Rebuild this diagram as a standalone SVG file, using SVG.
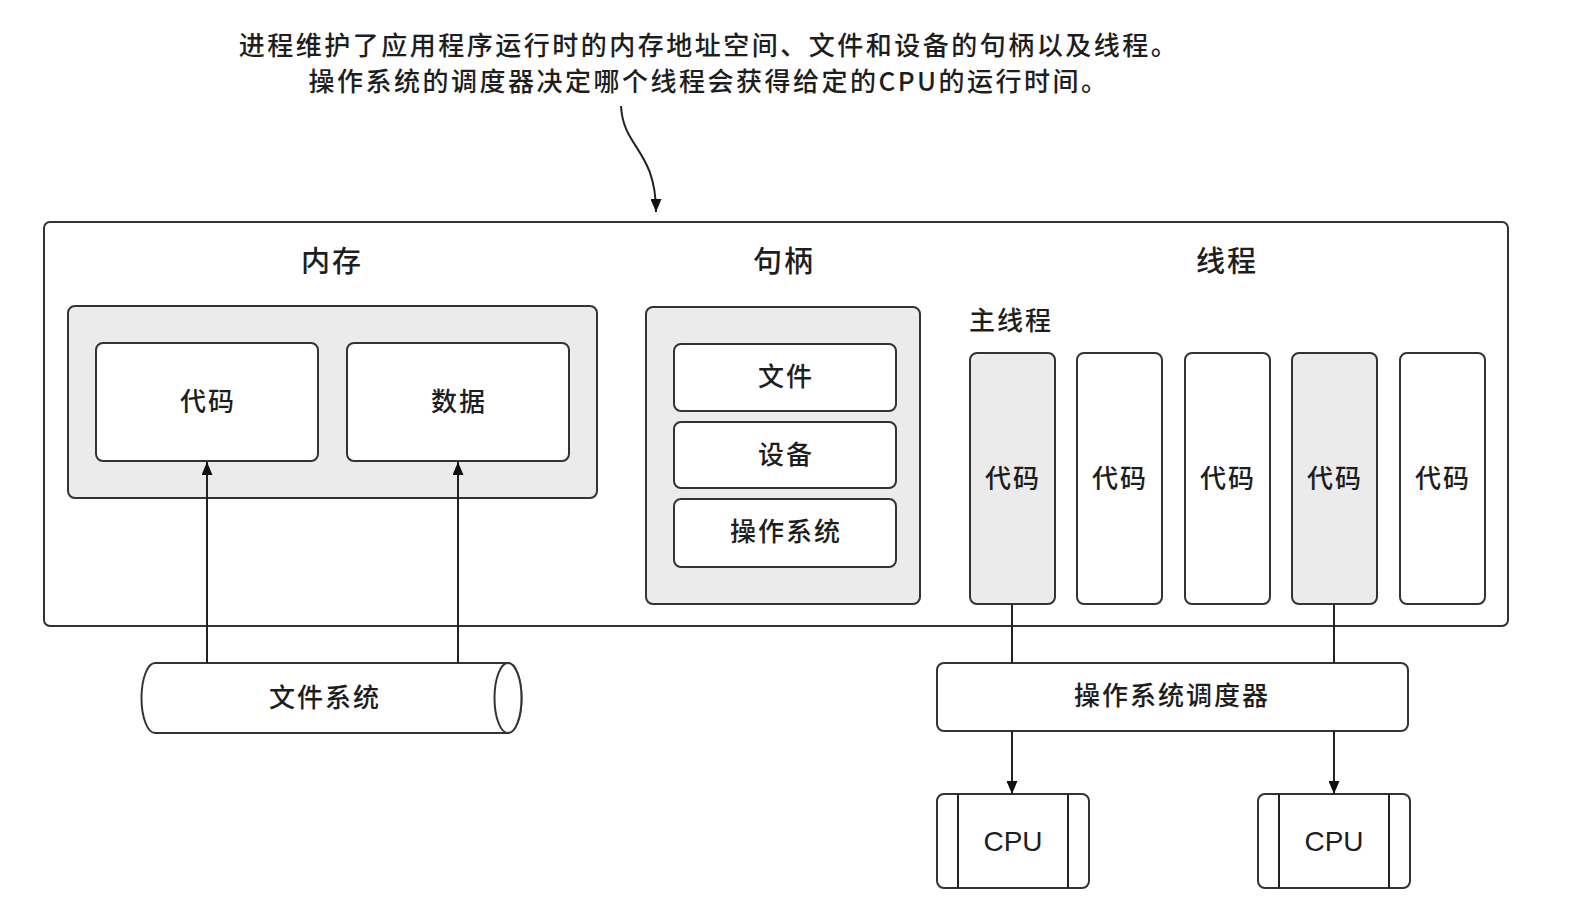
<svg xmlns="http://www.w3.org/2000/svg" width="1572" height="909" viewBox="0 0 1572 909">
<style>
.box{fill:#fff;stroke:#333;stroke-width:2}
.grey{fill:#ebebeb;stroke:#333;stroke-width:2}
.ln{fill:none;stroke:#222;stroke-width:2}
text{font-family:"Noto Sans CJK SC","Liberation Sans",sans-serif;fill:#1e1e1e;text-anchor:middle;font-weight:500}
.t{font-size:26px;letter-spacing:2px}
.c{font-size:26px;letter-spacing:2.5px}
.h{font-size:29px;letter-spacing:2px}
.cpu{font-family:"Liberation Sans",Arial,sans-serif;font-size:28px;font-weight:400}
</style>
<defs>
<marker id="arr" viewBox="0 0 13 11" refX="13" refY="5.5" markerWidth="13" markerHeight="11" markerUnits="userSpaceOnUse" orient="auto">
<path d="M0,0 L13,5.5 L0,11 z" fill="#111"/>
</marker>
</defs>
<rect width="1572" height="909" fill="#fff"/>
<g id="caption">
<text class="c" x="709" y="55">进程维护了应用程序运行时的内存地址空间、文件和设备的句柄以及线程。</text>
<text class="c" x="709" y="91">操作系统的调度器决定哪个线程会获得给定的CPU的运行时间。</text>
</g>
<g id="process">
<rect class="box" x="44" y="222" width="1464" height="404" rx="6"/>
<text class="h" x="332" y="272">内存</text>
<text class="h" x="784" y="272">句柄</text>
<text class="h" x="1227" y="272">线程</text>
</g>
<g id="memory">
<rect class="grey" x="68" y="306" width="529" height="192" rx="7"/>
</g>
<g id="mem-code">
<rect class="box" x="96" y="343" width="222" height="118" rx="7"/>
<text class="t" x="208" y="411">代码</text>
</g>
<g id="mem-data">
<rect class="box" x="347" y="343" width="222" height="118" rx="7"/>
<text class="t" x="459" y="411">数据</text>
</g>
<g id="handles">
<rect class="grey" x="646" y="307" width="274" height="297" rx="7"/>
</g>
<g id="h-file">
<rect class="box" x="674" y="344" width="222" height="67" rx="7"/>
<text class="t" x="786" y="386">文件</text>
</g>
<g id="h-device">
<rect class="box" x="674" y="422" width="222" height="66" rx="7"/>
<text class="t" x="786" y="464">设备</text>
</g>
<g id="h-os">
<rect class="box" x="674" y="499" width="222" height="68" rx="7"/>
<text class="t" x="786" y="541">操作系统</text>
</g>
<g id="main-thread-label">
<text class="t" x="1011" y="330">主线程</text>
</g>
<g id="thread1">
<rect class="grey" x="970" y="353" width="85" height="251" rx="7"/>
<text class="t" x="1013" y="488">代码</text>
</g>
<g id="thread2">
<rect class="box" x="1077" y="353" width="85" height="251" rx="7"/>
<text class="t" x="1120" y="488">代码</text>
</g>
<g id="thread3">
<rect class="box" x="1185" y="353" width="85" height="251" rx="7"/>
<text class="t" x="1228" y="488">代码</text>
</g>
<g id="thread4">
<rect class="grey" x="1292" y="353" width="85" height="251" rx="7"/>
<text class="t" x="1335" y="488">代码</text>
</g>
<g id="thread5">
<rect class="box" x="1400" y="353" width="85" height="251" rx="7"/>
<text class="t" x="1443" y="488">代码</text>
</g>
<g id="filesystem">
<path class="box" d="M155,663 L508,663 A13.5,35 0 0 1 508,733 L155,733 A13.5,35 0 0 1 155,663 Z"/>
<ellipse class="box" cx="508" cy="698" rx="13.5" ry="35"/>
<text class="t" x="325" y="707">文件系统</text>
</g>
<g id="scheduler">
<rect class="box" x="937" y="663" width="471" height="68" rx="7"/>
<text class="t" x="1172" y="705">操作系统调度器</text>
</g>
<g id="cpu1">
<rect class="box" x="937" y="794" width="152" height="94" rx="7"/>
<line class="ln" x1="958" y1="794" x2="958" y2="888"/>
<line class="ln" x1="1068" y1="794" x2="1068" y2="888"/>
<text class="cpu" x="1013" y="851">CPU</text>
</g>
<g id="cpu2">
<rect class="box" x="1258" y="794" width="152" height="94" rx="7"/>
<line class="ln" x1="1279" y1="794" x2="1279" y2="888"/>
<line class="ln" x1="1389" y1="794" x2="1389" y2="888"/>
<text class="cpu" x="1334" y="851">CPU</text>
</g>
<g id="connectors">
<path class="ln" d="M621,106 C623,148 656,150 656,212" marker-end="url(#arr)"/>
<line class="ln" x1="207" y1="663" x2="207" y2="462" marker-end="url(#arr)"/>
<line class="ln" x1="458" y1="663" x2="458" y2="462" marker-end="url(#arr)"/>
<line class="ln" x1="1012" y1="605" x2="1012" y2="663"/>
<line class="ln" x1="1334" y1="605" x2="1334" y2="663"/>
<line class="ln" x1="1012" y1="731" x2="1012" y2="794" marker-end="url(#arr)"/>
<line class="ln" x1="1334" y1="731" x2="1334" y2="794" marker-end="url(#arr)"/>
</g>
</svg>
